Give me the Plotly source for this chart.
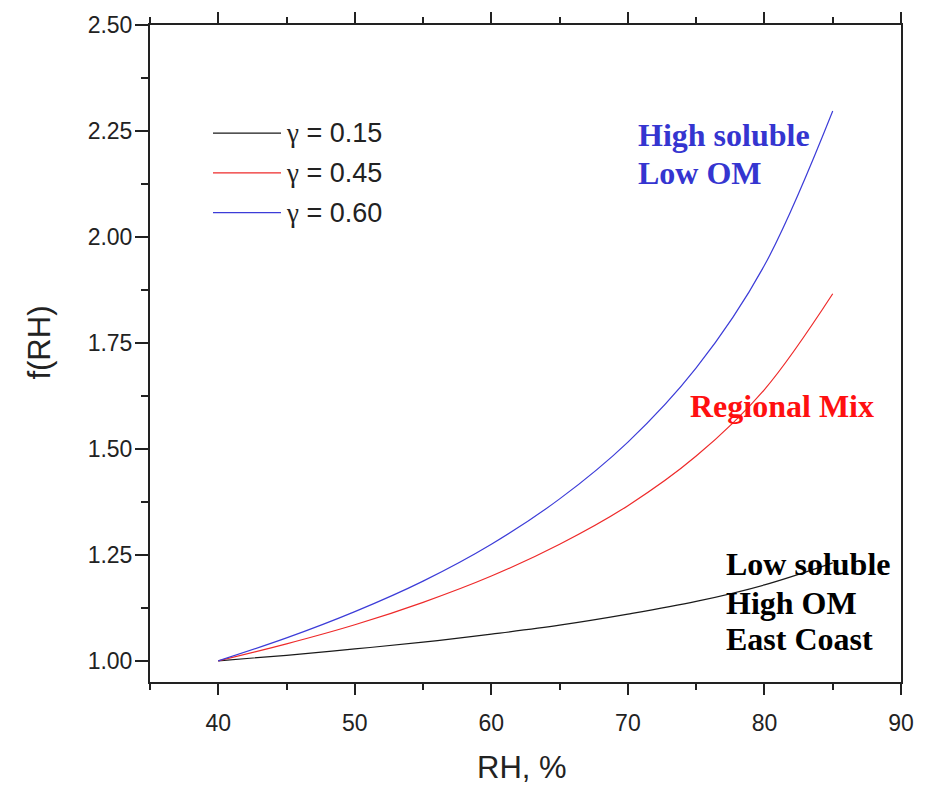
import plotly.graph_objects as go

rh = [40, 45, 50, 55, 60, 65, 70, 75, 80, 85]
f_015 = [1.000, 1.013, 1.028, 1.044, 1.063, 1.084, 1.110, 1.140, 1.179, 1.231]
f_045 = [1.000, 1.040, 1.085, 1.138, 1.200, 1.275, 1.366, 1.483, 1.640, 1.866]
f_060 = [1.000, 1.054, 1.116, 1.188, 1.275, 1.382, 1.516, 1.691, 1.933, 2.297]
gammas = ["0.15", "0.45", "0.60"]

series = [(gammas[0], f_015, "#1a1a1a"),
          (gammas[1], f_045, "#ee2a2a"),
          (gammas[2], f_060, "#3c3cd8")]

fig = go.Figure()
for g, ys, col in series:
    fig.add_trace(go.Scatter(x=rh, y=ys, mode="lines", name="γ = " + g,
                             line=dict(color=col, width=1.2, shape="spline"),
                             showlegend=False))

L, R, T, B = 150, 25, 20, 103
W, H = 926, 785
pw, ph = W - L - R, H - T - B

def px(x):
    return (x - L) / pw

def py(y):
    return (H - B - y) / ph

sans = "Liberation Sans, Arial"
serif = "Liberation Serif, Times New Roman"

shapes = []
annotations = []
leg_y = [129, 169, 209]
for (g, ys, col), yy in zip(series, leg_y):
    shapes.append(dict(type="line", xref="paper", yref="paper",
                       x0=px(213), x1=px(281), y0=py(yy), y1=py(yy),
                       line=dict(color=col, width=1.2)))
    annotations.append(dict(text="<span style='font-family:Liberation Serif'>γ</span> = " + g,
                            xref="paper", yref="paper",
                            x=px(284), y=py(yy), xanchor="left", yanchor="middle",
                            showarrow=False,
                            font=dict(family=sans, size=27, color="#222")))

labels = [("High soluble", 636, 131, "#3535d0"),
          ("Low OM", 636, 169, "#3535d0"),
          ("Regional Mix", 688, 404, "#ff1010"),
          ("Low soluble", 724, 563, "#000"),
          ("High OM", 724, 602, "#000"),
          ("East Coast", 724, 639, "#000")]
for txt, xx, yy, col in labels:
    annotations.append(dict(text="<b>" + txt + "</b>", xref="paper", yref="paper",
                            x=px(xx), y=py(yy), xanchor="left", yanchor="middle",
                            showarrow=False, font=dict(family=serif, size=32, color=col)))

annotations.append(dict(text="RH, %", xref="paper", yref="paper", x=px(522), y=py(768),
                        xanchor="center", yanchor="middle", showarrow=False,
                        font=dict(family=sans, size=31, color="#222")))
annotations.append(dict(text="f(RH)", xref="paper", yref="paper", x=px(40), y=py(340),
                        xanchor="center", yanchor="middle", showarrow=False, textangle=-90,
                        font=dict(family=sans, size=31, color="#222")))

tickfont = dict(family=sans, size=23, color="#222")
fig.update_layout(
    width=W, height=H,
    margin=dict(l=L, r=R, t=T, b=B),
    paper_bgcolor="white", plot_bgcolor="white",
    shapes=shapes, annotations=annotations,
    xaxis=dict(range=[35, 90], tick0=40, dtick=10, ticks="outside", ticklen=11, tickwidth=2,
               tickcolor="#222", showline=True, linecolor="#222", linewidth=2, mirror="ticks",
               showgrid=False, zeroline=False, tickfont=tickfont, ticklabelstandoff=8,
               minor=dict(dtick=5, tick0=40, ticks="outside", ticklen=6, tickwidth=2, tickcolor="#222")),
    yaxis=dict(range=[0.95, 2.5], tick0=1.0, dtick=0.25, tickformat=".2f", ticks="outside",
               ticklen=13, tickwidth=2, tickcolor="#222", showline=True, linecolor="#222",
               linewidth=2, mirror=True, showgrid=False, zeroline=False, tickfont=tickfont,
               ticklabelstandoff=-2,
               minor=dict(dtick=0.125, tick0=1.0, ticks="outside", ticklen=7, tickwidth=2, tickcolor="#222")),
)

fig.write_html("out.html")
